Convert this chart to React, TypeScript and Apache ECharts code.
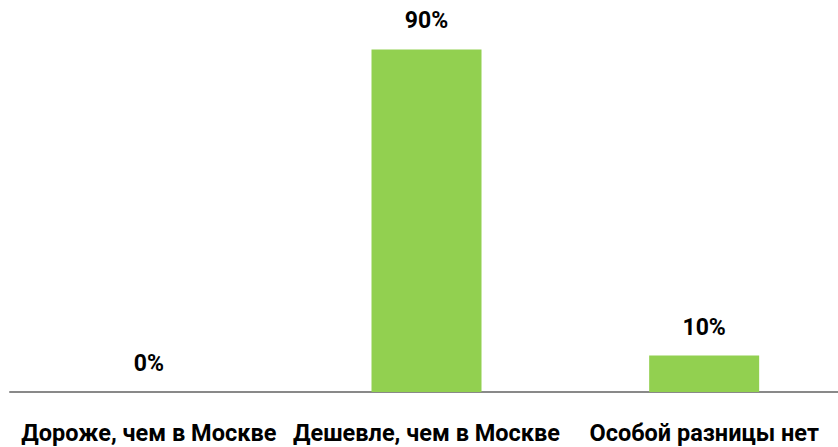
import React, { useEffect, useRef } from "react";
import * as echarts from "echarts";

const categories = ["Дороже, чем в Москве", "Дешевле, чем в Москве", "Особой разницы нет"];
const values = [0, 90.4, 9.6];
const valueLabels = ["0%", "90%", "10%"];

const FONT = "Roboto, 'Noto Sans', sans-serif";

export default function App() {
  const ref = useRef<HTMLDivElement>(null);
  useEffect(() => {
    document.body.style.margin = "0";
    document.body.style.overflow = "hidden";
    const chart = echarts.init(ref.current!, null, { renderer: "svg" });
    chart.setOption({
      animation: false,
      backgroundColor: "#ffffff",
      grid: { left: 10, right: 0, top: 13, bottom: 55, containLabel: false },
      xAxis: {
        type: "category",
        data: categories,
        axisLine: { show: true, lineStyle: { color: "#898989", width: 2 } },
        axisTick: { show: false },
        axisLabel: {
          interval: 0,
          margin: 29,
          color: "#000000",
          fontFamily: FONT,
          fontWeight: "bold",
          fontSize: 23.5,
        },
      },
      yAxis: {
        type: "value",
        min: 0,
        max: 100,
        show: false,
        splitLine: { show: false },
      },
      series: [
        {
          type: "bar",
          data: values,
          barWidth: 110,
          itemStyle: { color: "#92D050" },
          label: {
            show: true,
            position: "top",
            distance: 17,
            color: "#000000",
            fontFamily: FONT,
            fontWeight: "bold",
            fontSize: 23,
            formatter: (p: any) => valueLabels[p.dataIndex],
          },
        },
      ],
    });
    return () => chart.dispose();
  }, []);
  return (
    <div
      ref={ref}
      style={{ position: "fixed", left: 0, top: 0, width: 843, height: 447 }}
    />
  );
}
